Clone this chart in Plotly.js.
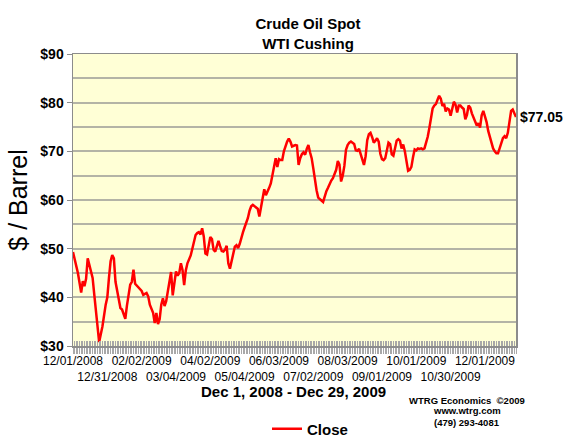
<!DOCTYPE html>
<html>
<head>
<meta charset="utf-8">
<script src="https://cdn.plot.ly/plotly-3.0.1.min.js"></script>
<style>html,body{margin:0;padding:0;background:#fff;}#chart{width:566px;height:439px;}</style>
</head>
<body>
<div id="chart"></div>
<script>
// Trading-day index (0 = 12/01/2008, last = 12/29/2009)
var dayIndex = [0,2,3,5,6,7,8,9,11,12,13,14,15,16,17,18,20,21,22,23,24,25,26,27,29,30,32,33,35,36,37,38,40,42,43,45,46,47,49,50,51,52,53,54,55,56,57,58,59,60,61,62,63,64,65,66,67,68,69,70,71,72,73,74,75,76,77,78,79,80,81,82,83,84,85,86,87,88,89,90,91,92,93,94,95,96,97,98,99,100,101,102,103,104,105,106,107,108,109,110,111,112,113,114,115,116,117,118,119,120,121,122,123,124,125,126,127,128,129,130,131,132,133,134,135,136,137,138,139,140,141,142,143,144,145,146,147,148,149,150,151,152,153,154,155,156,157,158,159,160,161,162,163,164,165,166,167,168,169,170,171,172,173,174,175,176,177,178,179,180,181,182,183,184,185,186,187,188,189,190,191,192,193,194,195,196,197,198,199,200,201,202,203,204,205,206,207,208,209,210,211,212,213,214,215,216,217,218,219,220,221,222,223,224,225,226,227,228,229,230,231,232,233,234,235,236,237,238,239,240,241,242,243,244,245,246,247,248,249,250,251,252,253,254,255,256,257,258,259,260,261,262,263,264,265,266,267,268,269,270,271];
var closePrice = [49.3,46.8,45.0,41.0,43.3,42.3,43.8,48.0,45.6,44.0,40.6,37.2,33.5,30.8,32.4,34.0,38.5,40.0,44.0,47.4,48.7,48.0,43.2,41.3,37.8,37.5,35.6,38.3,42.6,43.2,45.7,42.8,42.0,41.3,40.5,40.9,40.2,38.5,36.8,34.7,36.8,34.5,35.5,38.5,39.8,38.2,39.2,41.0,43.5,45.2,40.4,43.0,45.3,44.5,45.0,47.0,45.6,42.5,45.5,47.0,47.8,48.6,50.0,51.6,52.8,53.2,53.4,52.9,54.2,52.5,49.0,48.8,50.3,52.4,52.0,49.8,49.4,50.5,51.6,50.5,49.5,49.4,49.8,50.6,47.0,45.9,47.2,48.9,50.4,50.7,50.1,51.0,52.5,53.4,54.4,55.3,56.3,57.8,58.7,59.0,58.7,58.5,58.2,56.6,58.4,60.5,62.2,61.0,61.6,62.5,63.4,65.2,67.2,68.6,66.8,68.4,68.2,68.2,70.0,71.3,72.0,72.6,72.0,71.0,71.2,71.3,71.2,67.2,68.6,69.4,69.8,69.3,70.5,71.3,69.8,68.6,66.5,64.0,62.0,60.5,60.1,59.9,59.6,60.8,61.8,62.5,63.4,64.0,64.5,65.3,66.2,68.0,67.3,63.8,65.0,67.0,70.3,71.3,71.8,72.0,71.8,71.5,70.2,70.1,70.5,69.5,68.2,67.2,69.0,72.3,73.5,73.8,72.9,71.8,72.2,72.7,72.0,69.5,68.4,68.2,68.6,70.2,71.8,71.5,69.4,69.1,70.6,72.2,72.5,72.2,70.6,71.4,70.0,67.4,66.0,66.2,66.8,68.8,70.4,70.2,70.6,70.5,70.6,70.4,70.6,71.8,73.0,74.8,77.0,78.8,79.4,79.7,80.6,81.4,80.8,79.3,79.8,78.2,78.8,78.6,77.3,78.7,80.2,79.6,78.0,79.4,79.4,79.0,78.7,76.6,77.5,79.4,79.0,77.8,77.0,76.4,75.3,75.8,74.9,77.4,78.3,77.2,76.0,74.2,72.8,71.8,70.6,70.0,69.6,69.6,70.5,71.8,72.7,73.1,72.7,73.8,76.5,78.3,78.6,77.6,77.05];
var tickDayIndex = [0,21,42,63,84,105,126,147,168,189,210,231,252];
var tickLabels = ["12/01/2008","12/31/2008","02/02/2009","03/04/2009","04/02/2009","05/04/2009","06/03/2009","07/02/2009","08/03/2009","09/01/2009","10/01/2009","10/30/2009","12/01/2009"];
var yTickValues = [30,40,50,60,70,80,90];
var yTickLabels = ["$30","$40","$50","$60","$70","$80","$90"];
var lastLabel = "$77.05";

var FONT = "Liberation Sans, Arial, Helvetica, sans-serif";
var lastX = dayIndex[dayIndex.length-1];
var lastY = closePrice[closePrice.length-1];

var tickTextRows = tickLabels.map(function(t,i){ return i % 2 === 0 ? t : "<br>" + t; });

var traces = [
  {x: dayIndex, y: closePrice, type: "scatter", mode: "lines", name: "Close",
   line: {color: "#ff0000", width: 2.5}, hoverinfo: "skip"},
  {x: [], y: [], xaxis: "x2", type: "scatter", mode: "lines", showlegend: false, hoverinfo: "skip"}
];

var layout = {
  width: 566, height: 439,
  margin: {l: 73, r: 50, t: 54, b: 93, pad: 0},
  paper_bgcolor: "#ffffff",
  plot_bgcolor: "#ffffd6",
  font: {family: FONT, color: "#000", size: 12},
  showlegend: true,
  title: {text: "<b>Crude Oil Spot<br>WTI Cushing</b>", font: {family: FONT, size: 15, color: "#000"},
          x: 308/566, xanchor: "center", xref: "container", y: 1 - 29/439, yanchor: "top"},
  xaxis: {
    range: [0, lastX], fixedrange: true, automargin: false,
    tickmode: "array", tickvals: tickDayIndex, ticktext: tickTextRows, tickangle: 0,
    tickfont: {family: FONT, size: 12, color: "#000"},
    ticks: "outside", ticklen: 3, tickcolor: "#a8a8a8", tickwidth: 1,
    minor: {tickmode: "linear", tick0: 0, dtick: 1, ticks: "outside", ticklen: 6, tickcolor: "#a8a8a8", tickwidth: 1, showgrid: false},
    showgrid: false, zeroline: false,
    showline: true, mirror: true, linecolor: "#8c8c8c", linewidth: 1.5
  },
  xaxis2: {
    overlaying: "x", anchor: "y", side: "bottom", range: [0, lastX], fixedrange: true, automargin: false,
    tickmode: "linear", tick0: 0, dtick: 1, ticks: "inside", ticklen: 5, tickcolor: "#a8a8a8", tickwidth: 1,
    showticklabels: false, showgrid: false, zeroline: false, showline: false
  },
  yaxis: {
    range: [30, 90], fixedrange: true, automargin: false,
    tickmode: "array", tickvals: yTickValues, ticktext: yTickLabels,
    tickfont: {family: FONT, size: 14, color: "#000", weight: "bold"},
    ticks: "outside", ticklen: 5, tickcolor: "#8c8c8c",
    showgrid: true, gridcolor: "#b4b4a6", gridwidth: 1.8,
    minor: {tickmode: "linear", tick0: 30, dtick: 5, showgrid: true, gridcolor: "#b4b4a6", gridwidth: 1.8, ticks: ""},
    zeroline: false,
    showline: true, mirror: true, linecolor: "#8c8c8c", linewidth: 1.5,
    title: {text: "$ / Barrel", font: {family: FONT, size: 25, color: "#000"}, standoff: 5}
  },
  legend: {orientation: "h", xref: "container", yref: "container", x: 267/566, xanchor: "left", y: (439-429)/439, yanchor: "middle",
           font: {family: FONT, size: 15, color: "#000", weight: "bold"}, bgcolor: "rgba(0,0,0,0)", borderwidth: 0},
  annotations: [
    {xref: "x", yref: "y", x: lastX, y: lastY, text: "<b>" + lastLabel + "</b>", showarrow: false,
     xanchor: "left", yanchor: "middle", xshift: 2, font: {family: FONT, size: 14, color: "#000"}},
    {xref: "paper", yref: "paper", x: (293-73)/443, y: (346-391)/292, text: "<b>Dec 1, 2008 - Dec 29, 2009</b>",
     showarrow: false, xanchor: "center", yanchor: "middle", font: {family: FONT, size: 15, color: "#000"}},
    {xref: "paper", yref: "paper", x: (467-73)/443, y: (346-400)/292, text: "<b>WTRG Economics  ©2009</b>",
     showarrow: false, xanchor: "center", yanchor: "middle", font: {family: FONT, size: 9.5, color: "#000"}},
    {xref: "paper", yref: "paper", x: (467-73)/443, y: (346-411)/292, text: "<b>www.wtrg.com</b>",
     showarrow: false, xanchor: "center", yanchor: "middle", font: {family: FONT, size: 9.5, color: "#000"}},
    {xref: "paper", yref: "paper", x: (467-73)/443, y: (346-422)/292, text: "<b>(479) 293-4081</b>",
     showarrow: false, xanchor: "center", yanchor: "middle", font: {family: FONT, size: 9.5, color: "#000"}}
  ]
};

Plotly.newPlot("chart", traces, layout, {displayModeBar: false, staticPlot: true});
</script>
</body>
</html>
